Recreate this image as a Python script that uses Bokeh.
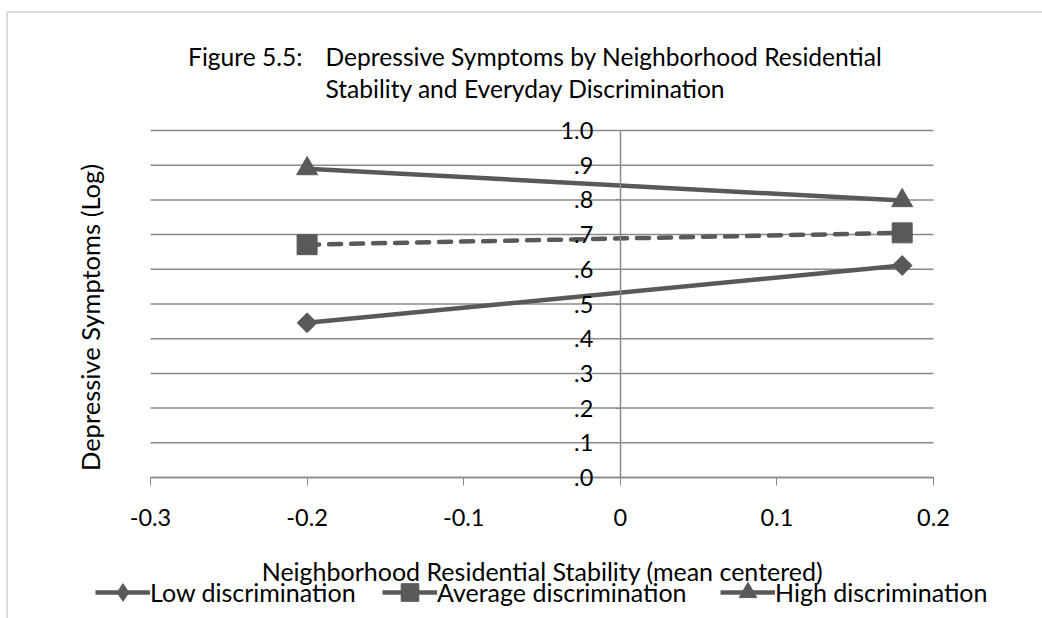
import math
from bokeh.plotting import figure
from bokeh.models import (Range1d, FixedTicker, Label, Legend, LegendItem,
                          BoxAnnotation, LinearAxis)
from bokeh.embed import file_html
from bokeh.resources import INLINE

# ---------------- data ----------------
x_stability = [-0.2, 0.18]
low_disc = [0.446, 0.611]
avg_disc = [0.671, 0.705]
high_disc = [0.890, 0.798]
series_names = ["Low discrimination", "Average discrimination", "High discrimination"]

x_ticks = [-0.3, -0.2, -0.1, 0.0, 0.1, 0.2]
x_tick_labels = ["-0.3", "-0.2", "-0.1", "0", "0.1", "0.2"]
y_ticks = [0.0, 0.1, 0.2, 0.3, 0.4, 0.5, 0.6, 0.7, 0.8, 0.9, 1.0]
y_tick_labels = [".0", ".1", ".2", ".3", ".4", ".5", ".6", ".7", ".8", ".9", "1.0"]

title_prefix = "Figure 5.5:"
title_line1 = "Depressive Symptoms by Neighborhood Residential"
title_line2 = "Stability and Everyday Discrimination"
x_label = "Neighborhood Residential Stability (mean centered)"
y_label = "Depressive Symptoms (Log)"

# ---------------- layout (pixels) ----------------
W, H = 1042, 618
L, R, T, B = 150, 933, 130, 477          # plot area inside the canvas
FONT = "Lato"
INK = "#595959"
GRID = "#8a8a8a"

x_lo, x_hi = x_ticks[0], x_ticks[-1]
y_lo, y_hi = y_ticks[0], y_ticks[-1]
kx = (R - L) / (x_hi - x_lo)
ky = (B - T) / (y_hi - y_lo)
x_range = Range1d(x_lo - L / kx, x_hi + (W - R) / kx)
y_range = Range1d(y_lo - (H - B) / ky, y_hi + T / ky)

p = figure(width=W, height=H, x_range=x_range, y_range=y_range, title=None,
           output_backend="svg", toolbar_location=None,
           x_axis_type=None, y_axis_type=None, min_border=0)
p.outline_line_color = None
p.background_fill_color = "white"
p.border_fill_color = "white"
p.xgrid.visible = False
p.ygrid.visible = False

# horizontal gridlines across the plot area
n = len(y_ticks)
p.segment(x0=[x_lo] * n, x1=[x_hi] * n, y0=y_ticks, y1=y_ticks,
          line_color=GRID, line_width=1.5)

# y axis sits at x = 0
yaxis = LinearAxis(ticker=FixedTicker(ticks=y_ticks), bounds=(y_lo, y_hi),
                   major_label_overrides=dict(zip(y_ticks, y_tick_labels)),
                   fixed_location=0,
                   axis_line_color=GRID, axis_line_width=1.5,
                   major_tick_line_color=GRID, major_tick_out=5, major_tick_in=0,
                   minor_tick_line_color=None,
                   major_label_standoff=22,
                   major_label_text_font=FONT, major_label_text_font_size="23.5px",
                   major_label_text_color="black")
p.add_layout(yaxis, "left")

xaxis = LinearAxis(ticker=FixedTicker(ticks=x_ticks), bounds=(x_lo, x_hi),
                   major_label_overrides=dict(zip(x_ticks, x_tick_labels)),
                   fixed_location=0,
                   axis_line_color=GRID, axis_line_width=1.5,
                   major_tick_line_color=GRID, major_tick_out=8, major_tick_in=0,
                   minor_tick_line_color=None,
                   major_label_standoff=23,
                   major_label_text_font=FONT, major_label_text_font_size="23.5px",
                   major_label_text_color="black")
p.add_layout(xaxis, "below")

# series lines
r_low = p.line(x_stability, low_disc, line_color=INK, line_width=4.5)
r_avg = p.line(x_stability, avg_disc, line_color=INK, line_width=4.5,
               line_dash="12 10", line_cap="round")
r_high = p.line(x_stability, high_disc, line_color=INK, line_width=4.5)

# legend proxies, drawn first so the real markers hide them completely:
# a zero-length solid segment (legend shows a solid line for the dashed series)
# and a small diamond (legend shows a diamond for the rotated-square markers)
r_avg_proxy = p.segment(x0=x_stability, x1=x_stability, y0=avg_disc, y1=avg_disc,
                        line_color=INK, line_width=4.5)
s_low_proxy = p.scatter(x_stability, low_disc, marker="diamond", size=10,
                        fill_color=INK, line_color=INK)

# series markers
s_low = p.scatter(x_stability, low_disc, marker="square", angle=math.pi / 4, size=14,
                  fill_color=INK, line_color=INK)
s_avg = p.scatter(x_stability, avg_disc, marker="square", size=20,
                  fill_color=INK, line_color=INK)
s_high = p.scatter(x_stability, high_disc, marker="triangle", size=21,
                   fill_color=INK, line_color=INK)


def sx(cx):
    return cx


def sy(cy):
    return H - cy


def add_label(text, cx, cy, size, align="left", angle=0.0):
    p.add_layout(Label(x=sx(cx), y=sy(cy), x_units="screen", y_units="screen",
                       text=text, text_font=FONT, text_font_size=size,
                       text_color="black", text_align=align, text_baseline="middle",
                       angle=angle))


add_label(title_prefix, 302, 56, "24.6px", align="right")
add_label(title_line1, 325, 56, "24.6px")
add_label(title_line2, 325, 88, "24.6px")
add_label(x_label, 542, 570, "25px", align="center")
add_label(y_label, 89, 317, "25.5px", align="center", angle=math.pi / 2)

# legend: one legend per item so each can be placed where the reference has it
legend_specs = [
    (series_names[0], [r_low, s_low_proxy], 95),
    (series_names[1], [r_avg_proxy, s_avg], 382),
    (series_names[2], [r_high, s_high], 720),
]
for name, rends, cx in legend_specs:
    lg = Legend(items=[LegendItem(label=name, renderers=rends)],
                location=(sx(cx), sy(614)), orientation="horizontal",
                padding=0, margin=0, spacing=0, label_standoff=0,
                glyph_width=55, glyph_height=44,
                border_line_color=None, background_fill_alpha=0,
                label_text_font=FONT, label_text_font_size="25px",
                label_text_color="black")
    p.add_layout(lg)

# outer border (top and left edges of the chart box)
p.add_layout(BoxAnnotation(left=sx(6.5), right=sx(1400), top=sy(11.5), bottom=sy(900),
                           left_units="screen", right_units="screen",
                           top_units="screen", bottom_units="screen",
                           fill_alpha=0, line_color="#888888", line_width=2))

open("out.html", "w").write(file_html(p, INLINE))
